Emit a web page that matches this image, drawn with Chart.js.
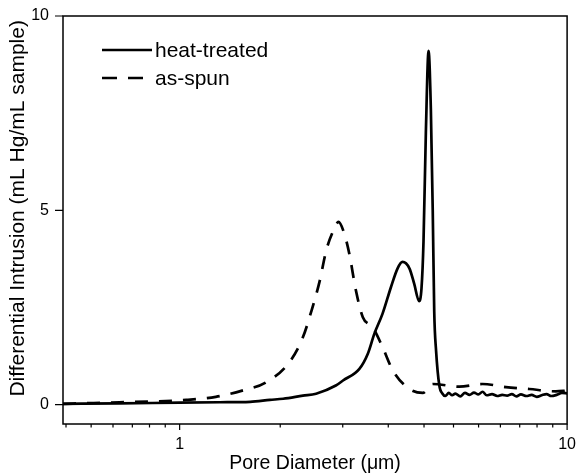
<!DOCTYPE html>
<html lang="en">
<head>
<meta charset="UTF-8">
<title>Differential Intrusion vs Pore Diameter</title>
<script src="https://cdn.jsdelivr.net/npm/chart.js"></script>
<style>
  html, body { margin: 0; padding: 0; background: #fff; }
</style>
</head>
<body>
<canvas id="poreChart" width="579" height="475"></canvas>
<script>
// heat-treated (solid)
const heatX = [0.5, 0.7, 1.0, 1.27, 1.52, 1.71, 1.85, 2.08, 2.25, 2.53, 2.64, 2.91, 3.06, 3.18, 3.34, 3.51, 3.65, 3.76, 3.92, 4.03, 4.15, 4.21, 4.26, 4.32, 4.39, 4.45, 4.50, 4.54, 4.59, 4.68, 4.77,
  4.85, 4.95, 5.05, 5.15, 5.3, 5.45, 5.6, 5.75, 5.9, 6.05, 6.2, 6.4, 6.6, 6.8, 7.0, 7.2, 7.4, 7.6, 7.85, 8.1, 8.35, 8.6, 8.85, 9.1, 9.4, 9.7, 10];
const heatY = [0.02, 0.03, 0.05, 0.06, 0.07, 0.12, 0.15, 0.23, 0.28, 0.49, 0.62, 0.92, 1.31, 1.82, 2.34, 3.02, 3.50, 3.67, 3.50, 3.11, 2.66, 3.0, 4.2, 7.0, 9.1, 7.6, 5.0, 2.4, 1.39, 0.49, 0.28,
  0.22, 0.30, 0.24, 0.28, 0.21, 0.30, 0.25, 0.31, 0.26, 0.33, 0.24, 0.27, 0.22, 0.25, 0.23, 0.27, 0.21, 0.26, 0.22, 0.25, 0.20, 0.24, 0.27, 0.22, 0.25, 0.30, 0.29];

// as-spun (dashed)
const spunX = [0.5, 0.6, 0.7, 0.85, 1.04, 1.24, 1.45, 1.67, 1.92, 2.08, 2.19, 2.30, 2.39, 2.51, 2.57, 2.66, 2.74, 2.85, 2.97, 3.15, 3.34, 3.55, 3.92, 4.24, 4.50, 5.27, 6.05, 6.95, 7.98, 9.35, 10];
const spunY = [0.02, 0.04, 0.06, 0.08, 0.12, 0.20, 0.36, 0.57, 1.09, 1.73, 2.42, 3.19, 3.97, 4.54, 4.70, 4.40, 3.89, 2.94, 2.25, 1.99, 1.48, 0.88, 0.40, 0.30, 0.53, 0.46, 0.53, 0.45, 0.40, 0.34, 0.36];

// axis ticks (minor ticks split each decade into 11 equal steps)
const xMajorTicks = [1, 10];
const xTickValues = [0.509, 0.591, 0.673, 0.755, 0.836, 0.918, 1, 1.818, 2.636, 3.455, 4.273, 5.091, 5.909, 6.727, 7.545, 8.364, 9.182, 10];
const yTickValues = [0, 5, 10];

const FONT = '"Liberation Sans", Arial, sans-serif';

const toPoints = (xs, ys) => xs.map((x, i) => ({ x: x, y: ys[i] }));

// frame, tick marks and the legend inside the plot
const framePlugin = {
    id: 'frame',
    afterDraw(chart) {
        const { ctx, chartArea: a, scales: { x, y } } = chart;
        ctx.save();
        ctx.strokeStyle = '#000';
        ctx.lineWidth = 1.5;
        ctx.strokeRect(a.left, a.top, a.right - a.left, a.bottom - a.top);

        ctx.lineWidth = 1.2;
        ctx.beginPath();
        xTickValues.forEach(v => {
            const px = x.getPixelForValue(v);
            const len = xMajorTicks.includes(v) ? 6 : 3.5;
            ctx.moveTo(px, a.bottom);
            ctx.lineTo(px, a.bottom + len);
        });
        yTickValues.forEach(v => {
            const py = y.getPixelForValue(v);
            ctx.moveTo(a.left - 8, py);
            ctx.lineTo(a.left, py);
        });
        ctx.stroke();

        // legend
        ctx.font = '21px ' + FONT;
        ctx.fillStyle = '#000';
        ctx.textBaseline = 'middle';
        chart.data.datasets.forEach((ds, i) => {
            const ly = a.top + 34 + i * 28;
            ctx.lineWidth = ds.borderWidth;
            ctx.setLineDash(ds.borderDash ? [15, 11] : []);
            ctx.beginPath();
            ctx.moveTo(a.left + 39, ly);
            ctx.lineTo(a.left + 89, ly);
            ctx.stroke();
            ctx.setLineDash([]);
            ctx.fillText(ds.label, a.left + 92, ly + 1);
        });
        ctx.restore();
    }
};

const ctx = document.getElementById('poreChart').getContext('2d');
const chart = new Chart(ctx, {
    type: 'scatter',
    data: {
        datasets: [{
            label: 'heat-treated',
            data: toPoints(heatX, heatY),
            showLine: true,
            borderColor: '#000',
            borderWidth: 2.7,
            pointRadius: 0,
            cubicInterpolationMode: 'monotone'
        }, {
            label: 'as-spun',
            data: toPoints(spunX, spunY),
            showLine: true,
            borderColor: '#000',
            borderWidth: 2.7,
            borderDash: [13, 11],
            pointRadius: 0,
            cubicInterpolationMode: 'monotone'
        }]
    },
    options: {
        responsive: false,
        animation: false,
        devicePixelRatio: 1,
        layout: { padding: { top: 16, right: 11, left: 0, bottom: 0 } },
        plugins: {
            legend: { display: false },
            tooltip: { enabled: false }
        },
        scales: {
            x: {
                type: 'logarithmic',
                min: 0.5,
                max: 10,
                afterBuildTicks: s => { s.ticks = xTickValues.map(v => ({ value: v })); },
                afterFit: s => { s.height = 51; },
                grid: { display: false },
                border: { display: false },
                ticks: {
                    autoSkip: false,
                    maxRotation: 0,
                    padding: 3,
                    color: '#000',
                    font: { family: FONT, size: 16 },
                    callback: v => xMajorTicks.includes(v) ? String(v) : ''
                },
                title: {
                    display: true,
                    text: 'Pore Diameter (\u03bcm)',
                    color: '#000',
                    font: { family: FONT, size: 19.5 },
                    padding: { top: 0, bottom: 0 }
                }
            },
            y: {
                min: -0.5,
                max: 10,
                afterBuildTicks: s => { s.ticks = yTickValues.map(v => ({ value: v })); },
                afterFit: s => { s.width = 63; },
                grid: { display: false },
                border: { display: false },
                ticks: {
                    padding: 6,
                    color: '#000',
                    font: { family: FONT, size: 16 },
                    callback: v => String(v)
                },
                title: {
                    display: true,
                    // leading spaces nudge the title a little above the axis centre, as in the original
                    text: '    Differential Intrusion (mL Hg/mL sample)',
                    color: '#000',
                    font: { family: FONT, size: 21 },
                    padding: { top: 6, bottom: 0 }
                }
            }
        }
    },
    plugins: [framePlugin]
});
</script>
</body>
</html>
